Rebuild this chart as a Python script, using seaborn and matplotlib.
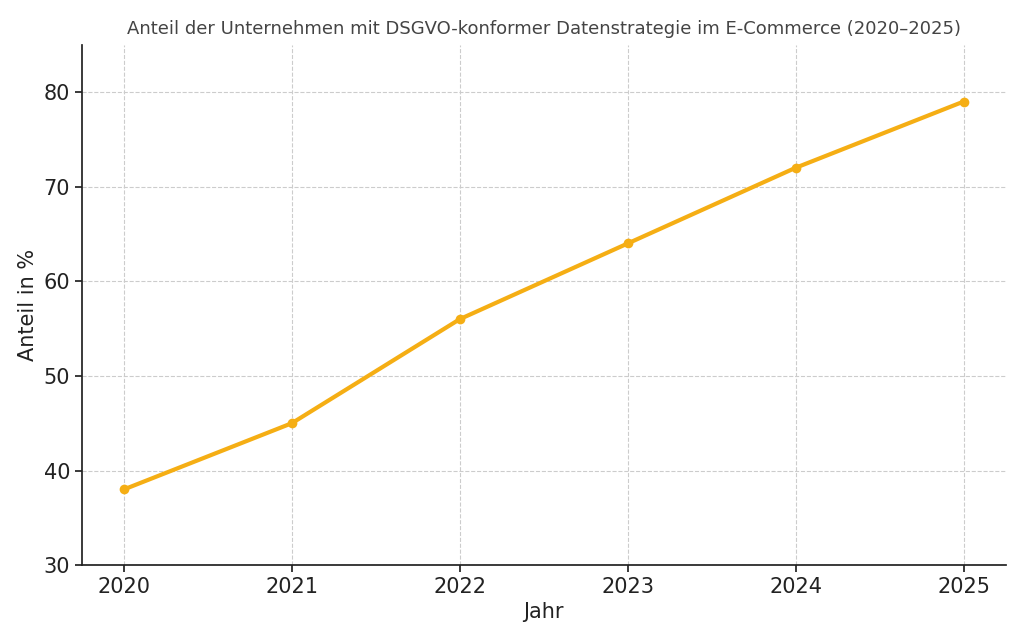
import matplotlib
matplotlib.use("Agg")
import matplotlib.pyplot as plt
import pandas as pd
import seaborn as sns

jahre = [2020, 2021, 2022, 2023, 2024, 2025]
anteil = [38, 45, 56, 64, 72, 79]

df = pd.DataFrame({"Jahr": jahre, "Anteil": anteil})

sns.set_theme(style="white", font="DejaVu Sans")
fig, ax = plt.subplots(figsize=(10.24, 6.4), dpi=100)
plt.subplots_adjust(left=0.08, right=0.982, top=0.93, bottom=0.117)

sns.lineplot(data=df, x="Jahr", y="Anteil", ax=ax, color="#F5AE14",
             linewidth=3, marker="o", markersize=7, markeredgewidth=0)

ax.set_title("Anteil der Unternehmen mit DSGVO-konformer Datenstrategie im E-Commerce (2020–2025)",
             fontsize=13, color="#444444", pad=8)
ax.set_xlabel("Jahr", fontsize=15, color="#222222")
ax.set_ylabel("Anteil in %", fontsize=15, color="#222222")
ax.set_ylim(30, 85)
ax.set_xticks(jahre)
ax.set_yticks([30, 40, 50, 60, 70, 80])
ax.tick_params(labelsize=15, colors="#222222", length=5, left=True, bottom=True)
ax.grid(True, linestyle="--", color="#cccccc", linewidth=0.8)
sns.despine(ax=ax)
for s in ["left", "bottom"]:
    ax.spines[s].set_color("#222222")

fig.savefig("out.png", dpi=100)
